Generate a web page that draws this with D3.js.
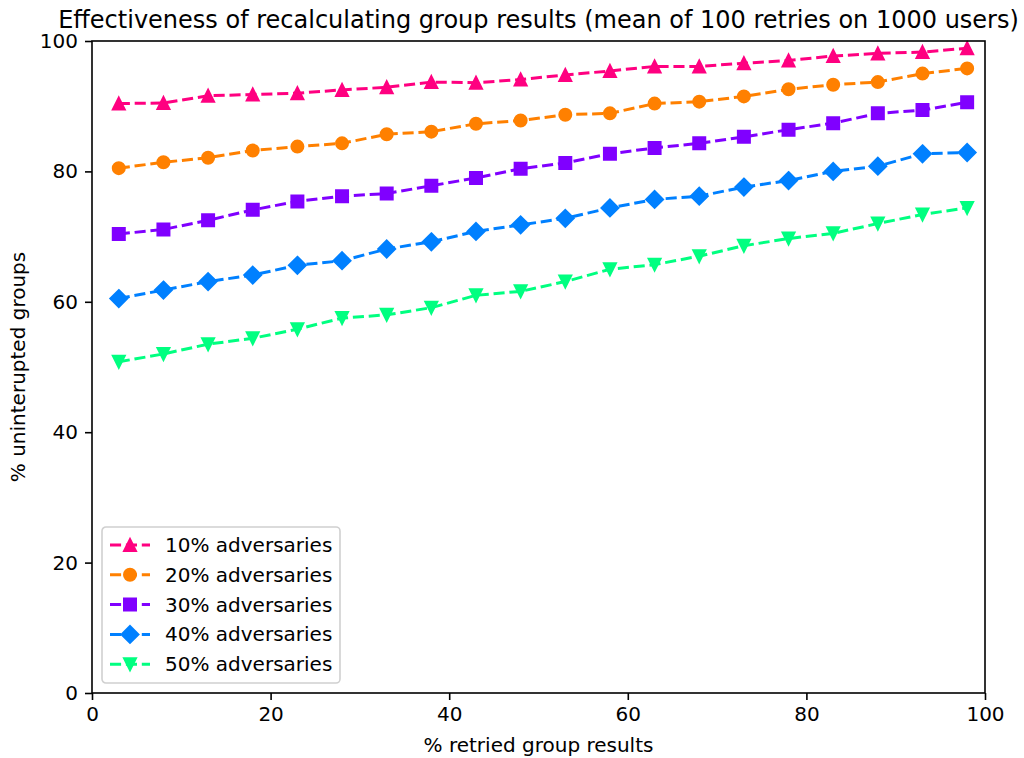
<!DOCTYPE html>
<html>
<head>
<meta charset="utf-8">
<script src="https://cdn.jsdelivr.net/npm/d3@7"></script>
<style>
  body { margin: 0; background: #fff; }
  text { font-family: "DejaVu Sans", sans-serif; fill: #000; }
</style>
</head>
<body>
<div id="chart"></div>
<script>
// data
var retried = [3, 8, 13, 18, 23, 28, 33, 38, 43, 48, 53, 58, 63, 68, 73, 78, 83, 88, 93, 98]
var adv10 = [90.4, 90.5, 91.6, 91.8, 92.0, 92.5, 92.9, 93.7, 93.6, 94.1, 94.8, 95.4, 96.1, 96.1, 96.6, 97.0, 97.7, 98.1, 98.3, 98.9]
var adv20 = [80.5, 81.4, 82.1, 83.2, 83.8, 84.3, 85.7, 86.1, 87.3, 87.8, 88.7, 88.9, 90.4, 90.7, 91.5, 92.6, 93.3, 93.7, 95.0, 95.8]
var adv30 = [70.4, 71.1, 72.5, 74.1, 75.4, 76.2, 76.6, 77.8, 79.0, 80.4, 81.3, 82.7, 83.6, 84.3, 85.3, 86.4, 87.4, 88.9, 89.4, 90.6]
var adv40 = [60.5, 61.8, 63.1, 64.1, 65.6, 66.3, 68.1, 69.2, 70.8, 71.8, 72.8, 74.4, 75.7, 76.2, 77.6, 78.6, 80.0, 80.8, 82.7, 82.9]
var adv50 = [50.8, 52.0, 53.5, 54.4, 55.8, 57.5, 58.0, 59.1, 61.0, 61.6, 63.1, 65.0, 65.7, 67.0, 68.6, 69.7, 70.5, 72.0, 73.4, 74.4]
var seriesNames = ["10% adversaries", "20% adversaries", "30% adversaries", "40% adversaries", "50% adversaries"]
var colors = ["#ff0080", "#ff8000", "#8000ff", "#0080ff", "#00ff80"]
var shapes = ["triUp", "circle", "square", "diamond", "triDown"]
var xTicks = [0, 20, 40, 60, 80, 100]
var yTicks = [0, 20, 40, 60, 80, 100]

var svgWidth = 1024
var svgHeight = 758
var margin = { top: 41, right: 39, bottom: 65, left: 92 }
var width = svgWidth - margin.left - margin.right
var height = svgHeight - margin.top - margin.bottom

var svg = d3.select("#chart").append("svg")
  .attr("width", svgWidth)
  .attr("height", svgHeight)

var chartGroup = svg.append("g")
  .attr("transform", `translate(${margin.left}, ${margin.top})`)

var xScale = d3.scaleLinear().domain([0, 100]).range([0, width])
var yScale = d3.scaleLinear().domain([0, 100]).range([height, 0])

var allSeries = [adv10, adv20, adv30, adv40, adv50].map(function(vals, i) {
  return {
    name: seriesNames[i],
    color: colors[i],
    shape: shapes[i],
    points: vals.map(function(v, j) { return { x: retried[j], y: v } })
  }
})

// marker paths (6pt markers at ~144 dpi)
var ms = 12
function markerPath(shape) {
  var h = ms / 2
  if (shape === "triUp") return `M0,${-h}L${h},${h}L${-h},${h}Z`
  if (shape === "triDown") return `M0,${h}L${h},${-h}L${-h},${-h}Z`
  if (shape === "square") return `M${-h},${-h}H${h}V${h}H${-h}Z`
  if (shape === "diamond") { var d = h * Math.SQRT2; return `M0,${-d}L${d},0L0,${d}L${-d},0Z` }
  return d3.arc()({ innerRadius: 0, outerRadius: h, startAngle: 0, endAngle: 2 * Math.PI })
}

var line = d3.line().x(d => xScale(d.x)).y(d => yScale(d.y))
var dash = "11.1,4.8"

allSeries.forEach(function(s) {
  var g = chartGroup.append("g")
  g.append("path")
    .attr("d", line(s.points))
    .attr("fill", "none")
    .attr("stroke", s.color)
    .attr("stroke-width", 3)
    .attr("stroke-dasharray", dash)
  g.selectAll("path.mk")
    .data(s.points)
    .enter()
    .append("path")
    .classed("mk", true)
    .attr("d", markerPath(s.shape))
    .attr("transform", d => `translate(${xScale(d.x)}, ${yScale(d.y)})`)
    .attr("fill", s.color)
    .attr("stroke", s.color)
    .attr("stroke-width", 2)
})

// axes
var bottomAxis = d3.axisBottom(xScale).tickValues(xTicks).tickSize(7).tickPadding(7)
var leftAxis = d3.axisLeft(yScale).tickValues(yTicks).tickSize(7).tickPadding(7)

var xg = chartGroup.append("g")
  .attr("transform", `translate(0, ${height})`)
  .call(bottomAxis)
var yg = chartGroup.append("g").call(leftAxis)

;[xg, yg].forEach(function(g) {
  g.select(".domain").remove()
  g.selectAll(".tick line").attr("stroke", "#000").attr("stroke-width", 1.6)
  g.selectAll(".tick text").style("font-size", "20px").attr("fill", "#000")
})

// frame
chartGroup.append("rect")
  .attr("width", width)
  .attr("height", height)
  .attr("fill", "none")
  .attr("stroke", "#000")
  .attr("stroke-width", 1.6)

// legend
var legend = chartGroup.append("g").attr("transform", "translate(10, 486)")
legend.append("rect")
  .attr("width", 238)
  .attr("height", 156)
  .attr("rx", 4)
  .attr("fill", "#fff")
  .attr("fill-opacity", 0.8)
  .attr("stroke", "#d0d0d0")
  .attr("stroke-width", 1.6)

var items = legend.selectAll("g.item")
  .data(allSeries)
  .enter()
  .append("g")
  .classed("item", true)
  .attr("transform", (d, i) => `translate(0, ${18 + i * 29.8})`)

items.append("line")
  .attr("x1", 8).attr("x2", 48)
  .attr("stroke", d => d.color)
  .attr("stroke-width", 3)
  .attr("stroke-dasharray", dash)
items.append("path")
  .attr("d", d => markerPath(d.shape))
  .attr("transform", "translate(28, 0)")
  .attr("fill", d => d.color)
  .attr("stroke", d => d.color)
  .attr("stroke-width", 2)
items.append("text")
  .attr("x", 63)
  .attr("dy", "0.35em")
  .style("font-size", "20px")
  .text(d => d.name)

// title and axis labels
svg.append("text")
  .attr("x", margin.left + width / 2)
  .attr("y", 28)
  .attr("text-anchor", "middle")
  .style("font-size", "24px")
  .text("Effectiveness of recalculating group results (mean of 100 retries on 1000 users)")

svg.append("text")
  .attr("x", margin.left + width / 2)
  .attr("y", 752)
  .attr("text-anchor", "middle")
  .style("font-size", "20px")
  .text("% retried group results")

svg.append("text")
  .attr("transform", `translate(25, ${margin.top + height / 2}) rotate(-90)`)
  .attr("text-anchor", "middle")
  .style("font-size", "20px")
  .text("% uninterupted groups")
</script>
</body>
</html>
